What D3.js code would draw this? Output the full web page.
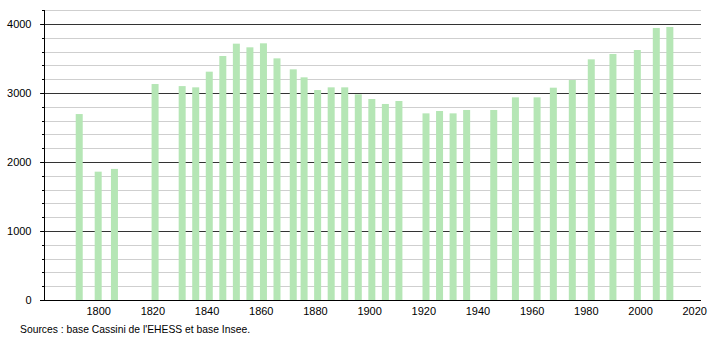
<!DOCTYPE html>
<html><head><meta charset="utf-8">
<script src="https://cdn.jsdelivr.net/npm/d3@7"></script>
<style>body{margin:0;background:#fff}svg{display:block}text{font-family:"Liberation Sans",Arial,sans-serif}</style>
</head><body><svg id="c" width="710" height="340"></svg>
<script>
const years = [1793,1800,1806,1821,1831,1836,1841,1846,1851,1856,1861,1866,1872,1876,1881,1886,1891,1896,1901,1906,1911,1921,1926,1931,1936,1946,1954,1962,1968,1975,1982,1990,1999,2006,2011];
const population = [2695,1860,1900,3130,3100,3082,3309,3536,3715,3662,3720,3502,3343,3227,3043,3082,3082,2981,2913,2841,2884,2705,2739,2705,2754,2754,2937,2937,3077,3188,3488,3565,3623,3942,3957];
const xTicks = [1800,1820,1840,1860,1880,1900,1920,1940,1960,1980,2000,2020];
const yMajor = [0,1000,2000,3000,4000];
const yMinor = [200,400,600,800,1200,1400,1600,1800,2200,2400,2600,2800,3200,3400,3600,3800,4200];
const source = "Sources : base Cassini de l'EHESS et base Insee.";

const svg = d3.select("#c");
const L = 44, R = 701, T = 10, B = 300;
const x = d3.scaleLinear().domain([1780, 2022.5]).range([L, R]);
const y = d3.scaleLinear().domain([0, 4200]).range([B, B - 4200*0.069]);

// minor gridlines
svg.append("g").selectAll("line").data(yMinor).join("line")
  .attr("x1", L).attr("x2", R).attr("y1", d => Math.round(y(d))+0.5).attr("y2", d => Math.round(y(d))+0.5)
  .attr("stroke", "#cfcfcf").attr("stroke-width", 1);
// major gridlines
svg.append("g").selectAll("line").data(yMajor.filter(d=>d>0)).join("line")
  .attr("x1", L-4).attr("x2", R).attr("y1", d => Math.round(y(d))+0.5).attr("y2", d => Math.round(y(d))+0.5)
  .attr("stroke", "#333").attr("stroke-width", 1);

// bars
const bw = 7;
svg.append("g").selectAll("rect").data(years).join("rect")
  .attr("x", d => x(d) - bw/2).attr("width", bw)
  .attr("y", (d,i) => y(population[i])).attr("height", (d,i) => B - y(population[i]))
  .attr("fill", "#b5e6b5");

// y axis
const yAxis = d3.axisLeft(y).tickValues(yMajor).tickSize(4).tickFormat(d3.format("d"));
const gy = svg.append("g").attr("transform", `translate(${L+0.5},0)`).call(yAxis);
gy.select(".domain").attr("d", `M0,${T}V${B}`).attr("stroke","#000");
gy.selectAll(".tick line").attr("stroke","#000");
gy.selectAll(".tick text").attr("font-size", 11).attr("fill","#000").attr("x", -13).attr("dy","0.35em");
gy.selectAll(".tick").attr("transform", d => `translate(0,${Math.round(y(d))+0.5})`);
svg.append("g").selectAll("line").data(yMinor).join("line")
  .attr("x1", L-2).attr("x2", L).attr("y1", d => Math.round(y(d))+0.5).attr("y2", d => Math.round(y(d))+0.5)
  .attr("stroke","#000");

// x axis
const xAxis = d3.axisBottom(x).tickValues(xTicks).tickSize(0).tickFormat(d3.format("d"));
const gx = svg.append("g").attr("transform", `translate(0,${B+0.5})`).call(xAxis);
gx.select(".domain").attr("d", `M${L-4},0H${R}`).attr("stroke","#000");
gx.selectAll(".tick text").attr("font-size", 11).attr("fill","#000").attr("dy", "1em");

svg.append("text").attr("x", 20).attr("y", 333).attr("font-size", 11).attr("fill","#000")
  .attr("textLength", 230).attr("lengthAdjust", "spacingAndGlyphs").text(source);
</script></body></html>
